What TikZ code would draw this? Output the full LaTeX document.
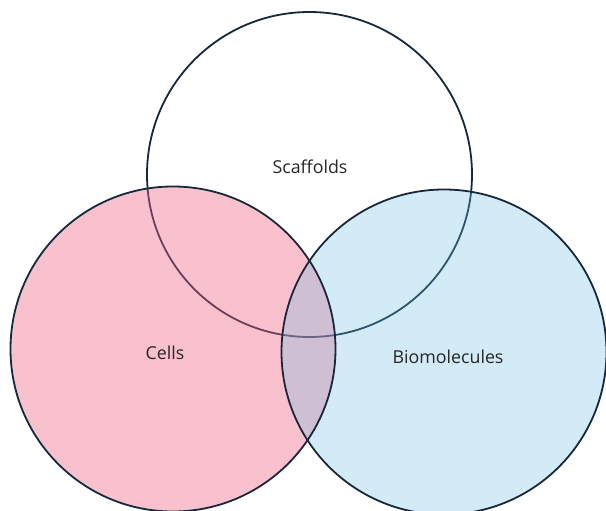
\documentclass[tikz,border=0pt]{standalone}
\usepackage{fontspec}
\setmainfont{Open Sans}
\usepackage{tikz}
\definecolor{rim}{HTML}{16283A}
\definecolor{cellpink}{RGB}{240,98,133}
\definecolor{molblue}{RGB}{108,188,228}
\tikzset{
	set/.style={circle,minimum size=325pt,inner sep=0pt},
	rimline/.style={draw=rim,line width=1.8pt},
	setlabel/.style={font=\fontsize{17.8}{21}\selectfont,text=black!85}
}
\begin{document}
\begin{tikzpicture}[x=1pt,y=-1pt]
	\useasboundingbox (0,0) rectangle (606,511);
	% the three sets
	\node[set,rimline] (scaf) at (309.5,174.5) {};
	\node[set,fill=cellpink,fill opacity=0.4] (cells) at (173,349) {};
	\node[set,fill=molblue,fill opacity=0.3] (mol) at (444,352) {};
	\node[set,rimline] at (cells) {};
	\node[set,rimline] at (mol) {};
	% labels
	\node[setlabel] (scaflab) at (310,167) {Scaffolds};
	\node[setlabel] (celllab) at (165,353) {Cells};
	\node[setlabel] (mollab) at (448,357) {Biomolecules};
\end{tikzpicture}
\end{document}
